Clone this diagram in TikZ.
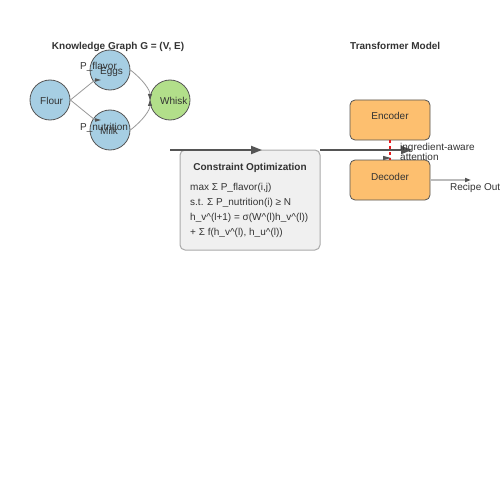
\documentclass[tikz,border=0pt]{standalone}
\usepackage{fontspec}
\setmainfont{Liberation Sans}
\usetikzlibrary{arrows.meta,calc}
\definecolor{txt}{HTML}{333333}
\definecolor{nodeblue}{HTML}{A6CEE3}
\definecolor{nodegreen}{HTML}{B2DF8A}
\definecolor{nodeorange}{HTML}{FDBF6F}
\definecolor{edgegray}{HTML}{999999}
\definecolor{darkgray5}{HTML}{555555}
\definecolor{boxfill}{HTML}{F0F0F0}
\definecolor{boxline}{HTML}{AAAAAA}
\definecolor{attnred}{HTML}{E41A1C}
\begin{document}
\begin{tikzpicture}[x=1pt,y=-1pt,
  lbl/.style={inner sep=0pt, text=txt, font=\fontsize{10}{12}\selectfont},
  ttl/.style={inner sep=0pt, text=txt, font=\fontsize{10}{12}\selectfont\bfseries},
  circ/.style={circle, draw=darkgray5, line width=0.8pt, minimum size=40pt, inner sep=0pt},
  obox/.style={rounded corners=5pt, draw=darkgray5, line width=0.8pt, fill=nodeorange, minimum width=80pt, minimum height=40pt, inner sep=0pt},
  cbox/.style={rounded corners=5pt, draw=boxline, line width=1pt, fill=boxfill, minimum width=140pt, minimum height=100pt, inner sep=0pt},
  kedge/.style={draw=edgegray, line width=0.8pt},
  bigarrow/.style={draw=darkgray5, line width=2pt, -{Triangle[length=11pt,width=8pt]}},
  tipmark/.style={fill=darkgray5, draw=none}
]
\useasboundingbox (0,0) rectangle (500,500);
\fill[white] (0,0) rectangle (500,500);

% titles
\node[ttl, anchor=base] (kgtitle) at (118,50) {Knowledge Graph G = (V, E)};
\node[ttl, anchor=base west] (tftitle) at (350,50) {Transformer Model};

% knowledge graph nodes
\node[circ, fill=nodeblue] (flour) at (50,100) {};
\node[circ, fill=nodeblue] (eggs) at (110,70) {};
\node[circ, fill=nodeblue] (milk) at (110,130) {};
\node[circ, fill=nodegreen] (whisk) at (170,100) {};

% edges
\coordinate (eggsin) at ($(eggs.center)+(-15,10)$);
\coordinate (milkin) at ($(milk.center)+(-15,-10)$);
\draw[kedge] (flour.east) -- (eggsin);
\draw[kedge] (flour.east) -- (milkin);
\fill[tipmark] ($(eggsin)+(0,-1.8)$) -- ($(eggsin)+(6,0)$) -- ($(eggsin)+(0,1.8)$) -- cycle;
\fill[tipmark] ($(milkin)+(0,-1.8)$) -- ($(milkin)+(6,0)$) -- ($(milkin)+(0,1.8)$) -- cycle;

\coordinate (whiskin) at ($(whisk.center)+(-20,0)$);
\draw[kedge, -{Triangle[length=6pt,width=4pt,color=darkgray5]}] (eggs.east) .. controls (143.3,80) and (150,90) .. (whiskin);
\draw[kedge, -{Triangle[length=6pt,width=4pt,color=darkgray5]}] (milk.east) .. controls (143.3,120) and (150,110) .. (whiskin);

% node texts
\node[lbl, anchor=base west] (flourtxt) at (40,105) {Flour};
\node[lbl, anchor=base west] (eggstxt) at (100,75) {Eggs};
\node[lbl, anchor=base west] (milktxt) at (100,135) {Milk};
\node[lbl, anchor=base west] (whisktxt) at (160,105) {Whisk};
\node[lbl, anchor=base west] (pflav) at (80,70) {P\_flavor};
\node[lbl, anchor=base west] (pnutr) at (80,130) {P\_nutrition};

% constraint box
\node[cbox] (opt) at (250,200) {};
\node[ttl, anchor=base] (opttitle) at (250,170) {Constraint Optimization};
\node[lbl, anchor=base west] (l1) at (190,190) {max Σ P\_flavor(i,j)};
\node[lbl, anchor=base west] (l2) at (190,205) {s.t. Σ P\_nutrition(i) ≥ N};
\node[lbl, anchor=base west] (l3) at (190,220) {h\_v\^{}(l+1) = σ(W\^{}(l)h\_v\^{}(l))};
\node[lbl, anchor=base west] (l4) at (190,235) {+ Σ f(h\_v\^{}(l), h\_u\^{}(l))};

% transformer
\node[obox] (enc) at (390,120) {};
\node[obox] (dec) at (390,180) {};
\node[lbl, anchor=base] (enctxt) at (390,120) {Encoder};
\node[lbl, anchor=base] (dectxt) at (390,180) {Decoder};

% big arrows
\coordinate (a1s) at (170,150);
\coordinate (a1e) at (262,150);
\coordinate (a2s) at (320,150);
\coordinate (a2e) at (412,150);
\draw[bigarrow] (a1s) -- (a1e);
\draw[bigarrow] (a2s) -- (a2e);

% attention
\draw[draw=attnred, line width=1.2pt, dash pattern=on 3pt off 3pt] (enc.south) -- (dec.north);
\fill[tipmark] (383,155.8) -- (391,158) -- (383,160.2) -- cycle;
\node[lbl, anchor=base west] (attn1) at (400,150) {ingredient-aware};
\node[lbl, anchor=base west] (attn2) at (400,160) {attention};

% output
\coordinate (outend) at (471,180);
\draw[draw=boxline!80!white, line width=1.5pt, -{Triangle[length=6pt,width=4pt,color=darkgray5]}] (dec.east) -- (outend);
\begin{scope}
\clip (0,0) rectangle (500,500);
\node[lbl, anchor=base west] (outtxt) at (450,190) {Recipe Output};
\end{scope}
\end{tikzpicture}
\end{document}
